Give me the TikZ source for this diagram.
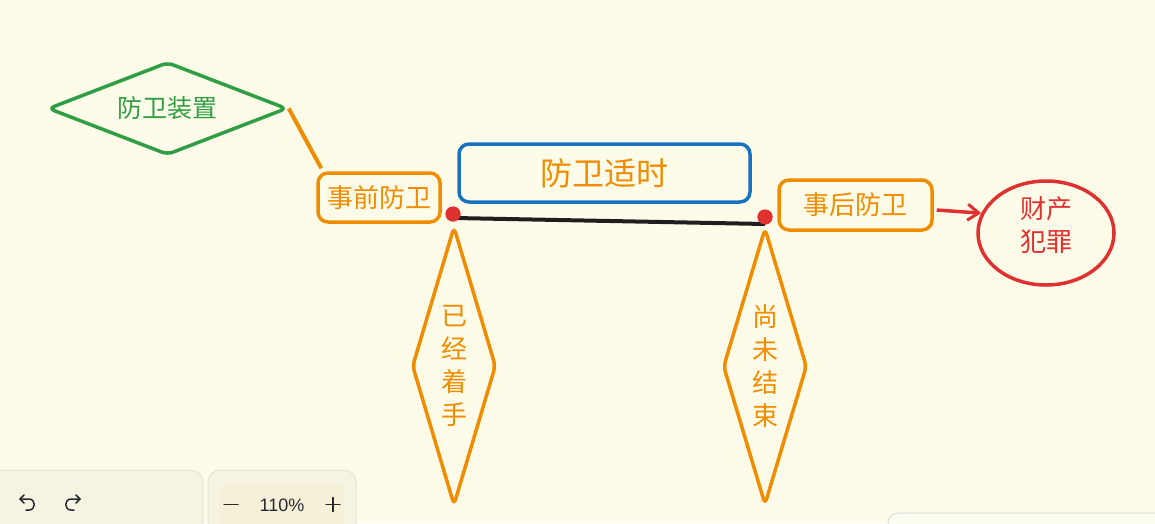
\documentclass[tikz,border=0pt]{standalone}
\usepackage{fontspec}
\setmainfont{Liberation Sans}
\newfontfamily\cjk{Noto Sans CJK SC}
\usetikzlibrary{shapes.geometric,arrows.meta,calc}
\definecolor{bg}{RGB}{254,252,232}
\definecolor{xorange}{RGB}{240,140,0}
\definecolor{xgreen}{RGB}{47,158,68}
\definecolor{xblue}{RGB}{25,113,194}
\definecolor{xred}{RGB}{224,49,49}
\definecolor{xblack}{RGB}{30,30,30}
\definecolor{panelfill}{RGB}{246,243,227}
\definecolor{panelline}{RGB}{232,228,212}
\definecolor{zoomfill}{RGB}{246,240,216}
\definecolor{uitext}{RGB}{40,40,48}
\tikzset{
  rbox/.style={draw=xorange, line width=3.5pt, rounded corners=10pt, minimum width=#1, inner sep=0pt, text=xorange},
  diam/.style={shape=diamond, draw=#1, line width=3.5pt, rounded corners=6pt, inner sep=0pt},
  dot/.style={circle, fill=xred, inner sep=0pt, minimum size=15pt},
  cjktext/.style={font=\cjk\fontsize{#1}{33}\selectfont, align=center, inner sep=0pt},
  panel/.style={fill=panelfill, draw=panelline, line width=1pt, rounded corners=12pt},
  icon/.style={draw=uitext, line width=1.5pt, line cap=round, line join=round}
}
\begin{document}
\begin{tikzpicture}[x=1pt,y=-1pt]
\fill[bg] (0,0) rectangle (1155,523);
\useasboundingbox (0,0) rectangle (1155,523);

% green diamond
\node[diam=xgreen, minimum width=239pt, minimum height=93pt] (shield) at (167.5,108.5) {};
\node[cjktext=25, text=xgreen] (shieldtxt) at (shield.center) {防卫装置};

% boxes
\node[rbox=122pt, minimum height=49pt, cjktext=26] (pre) at (379,197.5) {事前防卫};
\node[rbox=291pt, draw=xblue, minimum height=58pt, cjktext=32] (timely) at (604.5,173) {防卫适时};
\node[rbox=153pt, minimum height=50pt, cjktext=26] (post) at (855.5,205) {事后防卫};

% connector green diamond -> pre
\draw[xorange, line width=4pt] (shield.east) -- ($(pre.north west)+(5,-3)$);

% red dots and black line
\node[dot] (p1) at (453,214) {};
\node[dot] (p2) at (765,217) {};
\draw[xblack, line width=4pt] ($(p1)+(2,4)$) -- ($(p2)+(0,7)$);
\node[dot] at (p1) {};
\node[dot] at (p2) {};

% vertical diamonds
\node[diam=xorange, minimum width=84pt, minimum height=279pt] (d1) at (454,366) {};
\node[cjktext=26, text=xorange] (d1txt) at (454,366) {已\\经\\着\\手};
\node[diam=xorange, minimum width=84pt, minimum height=277pt] (d2) at (765,366.5) {};
\node[cjktext=26, text=xorange] (d2txt) at (765,366) {尚\\未\\结\\束};

% crime ellipse
\node[ellipse, draw=xred, line width=3.5pt, minimum width=136pt, minimum height=104pt, inner sep=0pt] (crime) at (1046,233) {};
\node[cjktext=26, text=xred] (crimetxt) at (1046,225) {财产\\犯罪};

% arrow
\draw[xred, line width=3.5pt, -{Straight Barb[length=11pt,width=16pt,line width=3pt]}] ($(post.east)+(3,5)$) -- (crime.163);

% UI panels
\draw[panel] (-12,470) rectangle (203,540);
\draw[panel] (208,470) rectangle (356,540);
\fill[zoomfill, rounded corners=10pt] (219,483) rectangle (344,540);
\draw[fill=bg!60!white, draw=black!15, line width=1pt, rounded corners=10pt] (888,513) rectangle (1170,540);

% undo / redo icons
\draw[icon] (20,499) -- (29,499) .. controls (36,499) and (36,510) .. (29,510) -- (26,510);
\draw[icon] (24,495) -- (20,499) -- (24,503);
\draw[icon] (80,499) -- (71,499) .. controls (64,499) and (64,510) .. (71,510) -- (74,510);
\draw[icon] (76,495) -- (80,499) -- (76,503);

% zoom controls
\draw[icon] (224,504.5) -- (238,504.5);
\node[text=uitext, font=\fontsize{18}{20}\selectfont, inner sep=0pt] (zoomlbl) at (282,505) {110\%};
\draw[icon] (326,504.5) -- (340,504.5);
\draw[icon] (333,497.5) -- (333,511.5);
\end{tikzpicture}
\end{document}
